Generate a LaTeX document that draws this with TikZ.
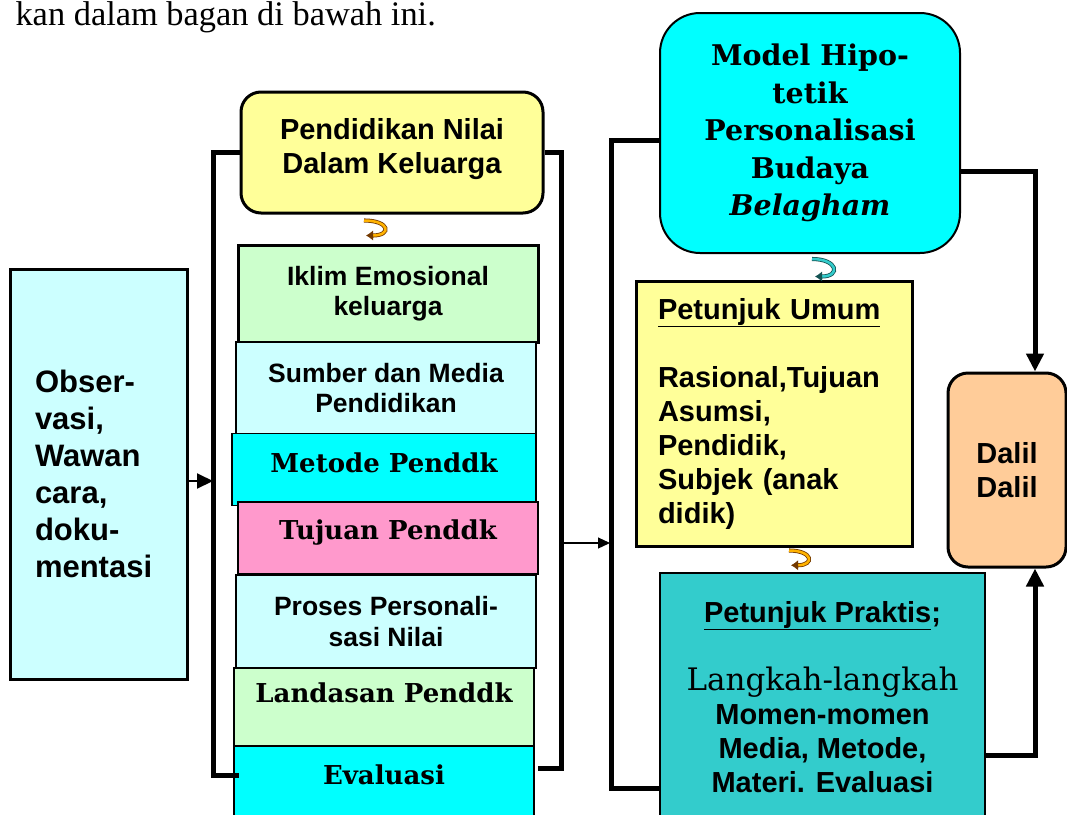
\documentclass[tikz,border=0pt]{standalone}
\usepackage{fontspec}
\setmainfont{Liberation Sans}
\newfontfamily\bookfont{DejaVu Serif}
\newfontfamily\introfont{Liberation Serif}
\usetikzlibrary{positioning}
\usetikzlibrary{shapes, arrows, arrows.meta}

\definecolor{paleyellow}{HTML}{FFFF99}
\definecolor{palegreen}{HTML}{CCFFCC}
\definecolor{palecyan}{HTML}{CCFFFF}
\definecolor{fullcyan}{HTML}{00FFFF}
\definecolor{pink}{HTML}{FF99CC}
\definecolor{teal}{HTML}{33CCCC}
\definecolor{peach}{HTML}{FFCC99}

\begin{document}
\begin{tikzpicture}[x=1pt, y=-1pt, node distance = 90pt, auto]
    \tikzstyle{block} = [rectangle, draw, line width=1.2pt, align=center,
    inner sep=4pt, font=\fontsize{29}{34}\selectfont\bfseries]
    \tikzstyle{stack} = [block, minimum width=300pt,
    font=\fontsize{26.5}{30.5}\selectfont\bfseries]
    \tikzstyle{serif} = [font=\bookfont\fontsize{26}{30}\selectfont\bfseries]
    \tikzstyle{round} = [block, line width=3pt, rounded corners=20pt]
    \tikzstyle{line} = [draw, -{Triangle[length=18pt, width=17pt]}]
    \tikzstyle{bracket} = [draw, line width=5pt]
    \tikzstyle{turn} = [draw=black!55!orange, double=orange!60!yellow,
    double distance=2.5pt, line width=0.8pt, -{Latex[length=7pt, width=10pt]}]
    \useasboundingbox (0,0) rectangle (1067,814);
    \clip (0,0) rectangle (1067,814);
    \node [anchor=base west, font=\introfont\fontsize{34.4}{40}\selectfont] (intro) at (12,25) {kan dalam bagan di bawah ini.};
    % kolom kiri
    \node [block, fill=palecyan, line width=3pt, minimum width=177pt, minimum height=410pt,
    align=left, text width=127pt, font=\fontsize{31}{37}\selectfont\bfseries] (obs) at (98.5,474)
    {Obser-\\vasi,\\Wawan\\cara,\\doku-\\mentasi};
    \node [round, fill=paleyellow, minimum width=302pt, minimum height=121pt] (kel) at (392,152.5)
    {Pendidikan Nilai\\Dalam Keluarga\\[-20pt]\mbox{}};
    \node [stack, fill=palegreen, line width=3pt, minimum height=97pt] (iklim) at (388,293.5)
    {Iklim Emosional\\keluarga};
    \node [stack, fill=palecyan, below of=iklim, node distance=94.5pt, xshift=-2pt,
    minimum height=92pt] (sumber) {Sumber dan Media\\Pendidikan};
    \node [stack, serif, fill=fullcyan, below of=sumber, node distance=81.5pt, xshift=-2pt,
    minimum width=304pt, minimum height=72pt, text depth=13pt] (metode) {Metode Penddk};
    \node [stack, serif, fill=pink, below of=metode, node distance=68.5pt, xshift=4pt,
    minimum height=72pt, text depth=16pt] (tujuan) {Tujuan Penddk};
    \node [stack, fill=palecyan, below of=tujuan, node distance=83.5pt, xshift=-2pt,
    minimum height=93pt] (proses) {Proses Personali-\\sasi Nilai};
    \node [stack, serif, fill=palegreen, below of=proses, node distance=85.5pt, xshift=-2pt,
    minimum height=78pt, text depth=28pt] (landasan) {Landasan Penddk};
    \node [stack, serif, fill=fullcyan, below of=landasan, node distance=81pt,
    minimum height=84pt, text depth=27pt] (evaluasi) {Evaluasi};
    % kolom kanan
    \node [round, fill=fullcyan, line width=2pt, rounded corners=40pt, minimum width=300pt,
    minimum height=240pt, font=\bookfont\fontsize{28.5}{37.5}\selectfont\bfseries] (model) at (810,133)
    {Model Hipo-\\tetik\\Personalisasi\\Budaya\\\textit{Belagham}};
    \node [block, fill=paleyellow, line width=3pt, minimum width=276pt, minimum height=265pt,
    align=left, text width=232pt] (umum) at (774,413.5)
    {\underline{Petunjuk Umum}\\[34pt]Rasional,Tujuan\\Asumsi,\\Pendidik,\\Subjek (anak\\didik)};
    \node [block, fill=teal, line width=1.5pt, minimum width=325pt, minimum height=267pt] (praktis) at (822.5,706.5)
    {\underline{Petunjuk Praktis};\\[34pt]{\bookfont\fontsize{31}{36}\selectfont\mdseries Langkah-langkah}\\
    Momen-momen\\Media, Metode,\\Materi. Evaluasi\\[-14pt]\mbox{}};
    \node [round, fill=peach, minimum width=118pt, minimum height=194pt] (dalil) at (1007,470)
    {Dalil\\Dalil};
    % penghubung
    \coordinate (lmid) at (213,481);
    \coordinate (rmid) at (560,543);
    \coordinate (gmid) at (610,543);
    \path [line, line width=2pt, -{Triangle[length=16pt, width=15pt]}] (obs.east |- lmid) -- (lmid);
    \path [line, line width=1.2pt, -{Triangle[length=12pt, width=11pt]}] (rmid) -- (gmid);
    \path [bracket] (kel.west) -- ++(-26,0) |- ([yshift=13pt, xshift=6pt]evaluasi.west);
    \path [bracket] (kel.east) -- ++(17,0) |- ([yshift=20pt, xshift=3pt]evaluasi.east);
    \path [bracket] ([yshift=-7pt]model.west) -- ++(-48,0) |- ([yshift=-81.5pt]praktis.west);
    \path [line, line width=5pt] ([yshift=-38pt]model.east) -| ([xshift=28pt]dalil.north);
    \path [line, line width=5pt] ([yshift=-48.5pt]praktis.east) -| ([xshift=28pt]dalil.south);
    \path [turn] ([xshift=-28pt, yshift=-6pt]kel.south) .. controls +(26,0) and +(26,0) .. ([xshift=-22pt, yshift=8pt]iklim.north);
    \path [turn, draw=black!60!teal, double=teal] ([xshift=2pt, yshift=-5pt]model.south) .. controls +(26,0) and +(26,0) .. ([xshift=41pt, yshift=3pt]umum.north);
    \path [turn] ([xshift=15pt, yshift=-3pt]umum.south) .. controls +(24,0) and +(24,0) .. ([xshift=-31.5pt, yshift=7pt]praktis.north);
\end{tikzpicture}
\end{document}
